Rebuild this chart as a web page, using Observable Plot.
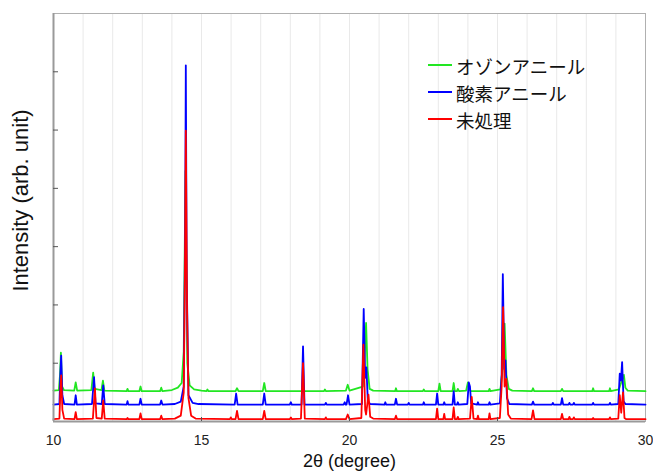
<!DOCTYPE html>
<html>
<head>
<meta charset="utf-8">
<script src="https://cdn.jsdelivr.net/npm/d3@7"></script>
<script src="https://cdn.jsdelivr.net/npm/@observablehq/plot@0.6"></script>
<style>
  html, body { margin: 0; padding: 0; background: #fff; }
  #wrap { position: relative; width: 653px; height: 472px; }
  #legend { position: absolute; left: 428px; top: 52px; font-family: "Noto Sans CJK JP", sans-serif; font-size: 18.5px; color: #111; }
  .row { display: flex; align-items: center; height: 27px; }
  .sw { width: 24px; height: 2px; margin-right: 4px; margin-top: -2px; }
</style>
</head>
<body>
<div id="wrap"><div id="legend"></div></div>
<script>
// ---- data ----
const seriesNames = ["オゾンアニール", "酸素アニール", "未処理"];
const seriesColors = ["#22e622", "#0000ff", "#ff0000"];
const xTicks = [10, 15, 20, 25, 30];
const yTicks = [1, 2, 3, 4, 5, 6];
const gridX = [11, 12, 13, 14, 15, 16, 17, 18, 19, 20, 21, 22, 23, 24, 25, 26, 27, 28, 29];

// オゾンアニール (green)
const ozone = [
  [10.0,0.53],[10.18,0.54],[10.22,0.8],[10.25,1.18],[10.29,0.6],[10.35,0.54],
  [10.70,0.53],[10.75,0.67],[10.80,0.53],
  [11.28,0.54],[11.34,0.84],[11.39,0.56],
  [11.62,0.54],[11.67,0.70],[11.72,0.53],
  [12.47,0.52],[12.50,0.56],[12.53,0.52],
  [12.90,0.52],[12.94,0.60],[12.98,0.52],
  [13.60,0.52],[13.64,0.58],[13.68,0.52],
  [14.0,0.54],[14.2,0.58],[14.33,0.66],[14.40,1.2],[14.46,4.3],[14.52,1.0],[14.60,0.62],[14.75,0.55],[15.0,0.53],
  [15.17,0.52],[15.20,0.55],[15.23,0.52],
  [16.15,0.52],[16.20,0.57],[16.25,0.52],
  [17.07,0.52],[17.12,0.66],[17.17,0.52],
  [19.14,0.52],[19.17,0.55],[19.20,0.52],
  [19.88,0.53],[19.94,0.63],[20.0,0.53],
  [20.45,0.60],[20.52,1.2],[20.56,1.69],[20.61,0.9],[20.68,0.56],[20.8,0.53],
  [21.54,0.52],[21.57,0.57],[21.60,0.52],
  [22.48,0.52],[22.51,0.55],[22.54,0.52],
  [23.00,0.52],[23.04,0.65],[23.08,0.52],
  [23.48,0.52],[23.52,0.66],[23.56,0.52],
  [23.63,0.52],[23.66,0.56],[23.70,0.52],
  [23.94,0.53],[24.00,0.67],[24.06,0.55],[24.10,0.52],
  [24.70,0.52],[24.73,0.56],[24.76,0.52],
  [25.10,0.55],[25.19,1.0],[25.24,1.68],[25.30,0.8],[25.38,0.56],[25.5,0.53],
  [26.16,0.52],[26.20,0.57],[26.24,0.52],
  [27.14,0.52],[27.18,0.56],[27.22,0.52],
  [28.20,0.52],[28.23,0.57],[28.26,0.52],
  [28.77,0.52],[28.80,0.57],[28.83,0.52],
  [29.10,0.55],[29.20,0.70],[29.27,0.80],[29.32,0.58],[29.40,0.53],
  [30.0,0.52]
];

// 酸素アニール (blue)
const oxygen = [
  [10.0,0.29],[10.20,0.30],[10.23,0.8],[10.26,1.13],[10.30,0.45],[10.36,0.30],
  [10.71,0.29],[10.75,0.45],[10.79,0.29],
  [11.30,0.30],[11.37,0.76],[11.42,0.31],
  [11.63,0.30],[11.68,0.62],[11.73,0.30],
  [12.47,0.29],[12.50,0.35],[12.53,0.29],
  [12.90,0.29],[12.94,0.39],[12.98,0.29],
  [13.60,0.29],[13.64,0.36],[13.68,0.29],
  [14.1,0.30],[14.3,0.34],[14.40,0.6],[14.45,3.5],[14.47,6.11],[14.50,2.5],[14.56,0.45],[14.7,0.32],[14.9,0.30],
  [16.12,0.29],[16.17,0.48],[16.22,0.29],
  [17.07,0.29],[17.12,0.48],[17.17,0.29],
  [17.98,0.29],[18.02,0.33],[18.05,0.29],
  [18.38,0.29],[18.43,1.29],[18.48,0.29],
  [19.17,0.29],[19.20,0.32],[19.23,0.29],
  [19.80,0.29],[19.84,0.33],[19.87,0.29],
  [19.90,0.29],[19.95,0.45],[20.0,0.29],
  [20.42,0.30],[20.48,1.93],[20.53,0.75],[20.57,0.93],[20.62,0.35],[20.7,0.30],
  [21.18,0.29],[21.21,0.33],[21.24,0.29],
  [21.53,0.29],[21.57,0.39],[21.61,0.29],
  [21.97,0.29],[22.00,0.32],[22.03,0.29],
  [22.48,0.29],[22.51,0.33],[22.54,0.29],
  [22.92,0.29],[22.96,0.48],[23.00,0.29],
  [23.17,0.29],[23.20,0.33],[23.23,0.29],
  [23.48,0.29],[23.52,0.52],[23.56,0.29],
  [23.63,0.29],[23.66,0.33],[23.69,0.29],
  [23.98,0.30],[24.03,0.67],[24.07,0.60],[24.11,0.31],
  [24.31,0.29],[24.34,0.33],[24.37,0.29],
  [24.70,0.29],[24.73,0.33],[24.76,0.29],
  [25.08,0.31],[25.14,0.8],[25.18,2.53],[25.23,0.9],[25.27,1.05],[25.32,0.4],[25.4,0.30],
  [26.16,0.29],[26.20,0.34],[26.24,0.29],
  [26.84,0.29],[26.87,0.32],[26.90,0.29],
  [27.14,0.29],[27.18,0.40],[27.22,0.29],
  [27.40,0.29],[27.43,0.32],[27.46,0.29],
  [27.55,0.29],[27.58,0.32],[27.61,0.29],
  [28.20,0.29],[28.23,0.32],[28.26,0.29],
  [28.77,0.29],[28.80,0.32],[28.83,0.29],
  [29.08,0.30],[29.13,0.82],[29.17,0.70],[29.21,1.02],[29.26,0.35],[29.32,0.30],
  [30.0,0.29]
];

// 未処理 (red)
const untreated = [
  [10.0,0.04],[10.20,0.05],[10.23,0.5],[10.26,0.79],[10.30,0.2],[10.36,0.05],
  [10.71,0.04],[10.75,0.16],[10.79,0.04],
  [11.33,0.05],[11.40,0.57],[11.45,0.06],
  [11.63,0.05],[11.68,0.36],[11.73,0.05],
  [12.47,0.04],[12.50,0.06],[12.53,0.04],
  [12.90,0.04],[12.94,0.14],[12.98,0.04],
  [13.60,0.04],[13.64,0.10],[13.68,0.04],
  [14.1,0.05],[14.3,0.10],[14.40,0.5],[14.44,2.5],[14.47,4.99],[14.51,2.0],[14.56,0.4],[14.65,0.10],[14.8,0.05],
  [15.96,0.04],[15.99,0.07],[16.02,0.04],
  [16.15,0.04],[16.20,0.18],[16.25,0.04],
  [17.07,0.04],[17.12,0.18],[17.17,0.04],
  [17.98,0.04],[18.02,0.07],[18.05,0.04],
  [18.36,0.05],[18.43,1.0],[18.49,0.05],
  [19.17,0.04],[19.20,0.07],[19.23,0.04],
  [19.88,0.04],[19.94,0.12],[20.0,0.04],
  [20.40,0.06],[20.47,1.32],[20.53,0.2],[20.56,0.12],[20.64,0.46],[20.70,0.08],[20.8,0.05],
  [21.53,0.04],[21.57,0.10],[21.61,0.04],
  [22.92,0.04],[22.96,0.22],[23.00,0.04],
  [23.17,0.04],[23.20,0.13],[23.23,0.04],
  [23.48,0.04],[23.52,0.24],[23.56,0.04],
  [23.63,0.04],[23.66,0.08],[23.69,0.04],
  [24.07,0.05],[24.13,0.42],[24.19,0.05],
  [24.31,0.04],[24.34,0.10],[24.37,0.04],
  [24.70,0.04],[24.73,0.14],[24.76,0.04],
  [25.08,0.06],[25.14,0.6],[25.19,1.96],[25.24,0.6],[25.30,0.73],[25.36,0.12],[25.45,0.05],
  [26.15,0.04],[26.20,0.19],[26.25,0.04],
  [27.14,0.04],[27.18,0.13],[27.22,0.04],
  [27.40,0.04],[27.43,0.08],[27.46,0.04],
  [27.55,0.04],[27.58,0.07],[27.61,0.04],
  [28.20,0.04],[28.23,0.06],[28.26,0.04],
  [28.77,0.04],[28.80,0.07],[28.83,0.04],
  [29.08,0.05],[29.13,0.45],[29.18,0.15],[29.24,0.50],[29.29,0.06],[29.35,0.04],
  [30.0,0.04]
];

const xLabel = "2θ (degree)";
const yLabel = "Intensity (arb. unit)";

// ---- chart ----
const W = 653, H = 472, mL = 53, mR = 8, mT = 13, mB = 51;
const innerW = W - mL - mR, innerH = H - mT - mB;
const seriesData = [ozone, oxygen, untreated];
const font = "'Liberation Sans', Arial, sans-serif";

const chart = Plot.plot({
  width: W, height: H,
  marginLeft: mL, marginRight: mR, marginTop: mT, marginBottom: mB,
  style: { fontFamily: font, fontSize: "14px", color: "#222", background: "#fff" },
  x: { domain: [10, 30], ticks: xTicks, tickSize: 0, tickPadding: 14, label: null, tickFormat: d => String(d) },
  y: { domain: [0, 7], axis: null },
  marks: [
    Plot.ruleX(gridX, { stroke: "#e9e9e9", strokeWidth: 1 }),
    Plot.frame({ stroke: "#b0b0b0", strokeWidth: 1 }),
    ...seriesData.map((s, i) => Plot.line(s, { x: d => d[0], y: d => d[1], stroke: seriesColors[i], strokeWidth: 1.8 })),
    Plot.ruleX([10], { stroke: "#9a9a9a", strokeWidth: 2 }),
    Plot.ruleY([0], { stroke: "#9a9a9a", strokeWidth: 2 }),
    Plot.tickY(yTicks, { y: d => d, stroke: "#555", insetRight: innerW - 5 }),
    Plot.tickX(xTicks.slice(1, -1), { x: d => d, stroke: "#555", insetTop: innerH - 4 }),
    Plot.text([xLabel], { frameAnchor: "bottom", dy: 40, lineAnchor: "middle", textAnchor: "middle", fontSize: 18, fill: "#111", text: d => d }),
    Plot.text([yLabel], { frameAnchor: "left", dx: -33, dy: -17, rotate: -90, lineAnchor: "middle", textAnchor: "middle", fontSize: 22, fill: "#111", text: d => d })
  ]
});
const wrap = document.getElementById("wrap");
wrap.insertBefore(chart, wrap.firstChild);

const legend = document.getElementById("legend");
seriesNames.forEach((n, i) => {
  const row = document.createElement("div");
  row.className = "row";
  const sw = document.createElement("div");
  sw.className = "sw";
  sw.style.background = seriesColors[i];
  const t = document.createElement("span");
  t.textContent = n;
  row.appendChild(sw); row.appendChild(t);
  legend.appendChild(row);
});
</script>
</body>
</html>
